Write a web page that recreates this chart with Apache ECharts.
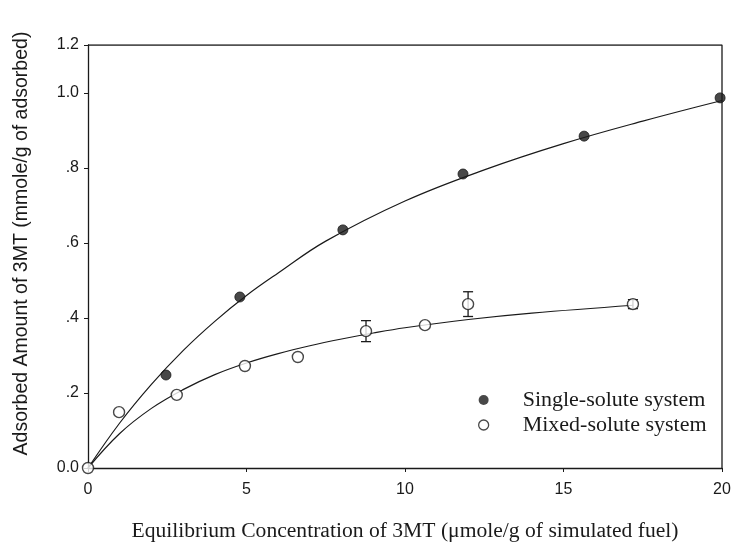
<!DOCTYPE html>
<html>
<head>
<meta charset="utf-8">
<script src="https://cdn.jsdelivr.net/npm/echarts@6/dist/echarts.min.js"></script>
<style>
  html, body { margin: 0; padding: 0; background: #fff; }
  #chart { width: 739px; height: 551px; }
</style>
</head>
<body>
<div id="chart"></div>
<script>
// Measured isotherm points: single-solute (filled) and mixed-solute (open)
const singleC = [2.46, 4.79, 8.04, 11.83, 15.65, 19.94];
const singleQ = [0.248, 0.456, 0.635, 0.784, 0.885, 0.987];

const mixedC = [0, 0.98, 2.8, 4.95, 6.62, 8.77, 10.63, 11.99, 17.19];
const mixedQ = [0, 0.149, 0.195, 0.272, 0.296, 0.365, 0.381, 0.437, 0.437];
const mixedErr = [0, 0, 0, 0, 0, 0.028, 0, 0.033, 0.012];

// Fitted isotherm curves
const singleFitC = [0, 1, 2, 3, 4, 5, 6, 7.5, 10, 12.5, 15, 17.5, 20];
const singleFitQ = [0, 0.12, 0.223, 0.313, 0.391, 0.46, 0.52, 0.605, 0.712, 0.795, 0.865, 0.925, 0.98];

const mixedFitC = [0, 1, 2, 3, 4, 5, 6, 7, 8, 9, 10, 12, 14, 17.2];
const mixedFitQ = [0, 0.092, 0.159, 0.209, 0.249, 0.28, 0.305, 0.326, 0.344, 0.36, 0.374, 0.396, 0.413, 0.434];

// Tick labels on the axes
const xTickLabels = ['0', '5', '10', '15', '20'];
const yTickLabels = ['0.0', '.2', '.4', '.6', '.8', '1.0', '1.2'];

const ink = '#1a1a1a';
const zip = (a, b) => a.map((v, i) => [v, b[i]]);

const chart = echarts.init(document.getElementById('chart'));
chart.setOption({
  backgroundColor: '#fff',
  animation: false,
  grid: { left: 88, right: 17, top: 45, bottom: 83, containLabel: false, outerBoundsMode: 'none' },
  legend: {
    orient: 'vertical',
    left: 473,
    top: 384,
    itemGap: 3,
    itemWidth: 14,
    itemHeight: 10,
    textStyle: { fontFamily: 'Liberation Serif', fontSize: 22, color: ink, padding: [0, 0, 0, 27] },
    data: [
      { name: 'Single-solute system', icon: 'circle', itemStyle: { color: ink, borderColor: ink } },
      { name: 'Mixed-solute system', icon: 'circle', itemStyle: { color: '#fff', borderColor: ink, borderWidth: 1.3 } }
    ]
  },
  xAxis: {
    type: 'value',
    min: 0, max: 20, interval: 5,
    name: 'Equilibrium Concentration of 3MT (\u03bcmole/g of simulated fuel)',
    nameLocation: 'middle',
    nameGap: 52,
    nameTextStyle: { fontFamily: 'Liberation Serif', fontSize: 21.6, color: ink },
    axisLine: { onZero: false, lineStyle: { color: ink, width: 1.3 } },
    axisTick: { show: true, length: 4, lineStyle: { color: ink } },
    axisLabel: {
      margin: 14, fontFamily: 'Liberation Sans', fontSize: 16, color: ink,
      formatter: (v, i) => xTickLabels[i]
    },
    splitLine: { show: false }
  },
  yAxis: {
    type: 'value',
    min: 0, max: 1.128, interval: 0.2,
    name: 'Adsorbed Amount of 3MT (mmole/g of adsorbed)',
    nameLocation: 'middle',
    nameGap: 56,
    nameTextStyle: { fontFamily: 'Liberation Sans', fontSize: 19.5, color: ink, padding: [0, 0, 0, 26] },
    axisLine: { onZero: false, lineStyle: { color: ink, width: 1.3 } },
    axisTick: { show: true, length: 4, lineStyle: { color: ink } },
    axisLabel: {
      margin: 9, fontFamily: 'Liberation Sans', fontSize: 16, color: ink,
      showMaxLabel: true,
      formatter: (v, i) => yTickLabels[i]
    },
    splitLine: { show: false }
  },
  series: [
    // Frame: top and right borders of the plotting area
    {
      type: 'line', silent: true, symbol: 'none',
      data: [[0, 1.128], [20, 1.128], [20, 0]],
      lineStyle: { color: ink, width: 1.3 }
    },
    {
      name: 'single fit', type: 'line', smooth: 0.4, symbol: 'none', silent: true,
      data: zip(singleFitC, singleFitQ),
      lineStyle: { color: ink, width: 1.2 }
    },
    {
      name: 'mixed fit', type: 'line', smooth: 0.4, symbol: 'none', silent: true,
      data: zip(mixedFitC, mixedFitQ),
      lineStyle: { color: ink, width: 1.2 }
    },
    {
      name: 'error bars', type: 'custom', silent: true,
      data: mixedC.map((c, i) => [c, mixedQ[i], mixedErr[i]]).filter(d => d[2] > 0),
      renderItem: (params, api) => {
        const x = api.value(0), y = api.value(1), e = api.value(2);
        const top = api.coord([x, y + e]);
        const bot = api.coord([x, y - e]);
        const w = 5;
        const style = { stroke: ink, lineWidth: 1.3 };
        return {
          type: 'group',
          children: [
            { type: 'line', shape: { x1: top[0], y1: top[1], x2: bot[0], y2: bot[1] }, style },
            { type: 'line', shape: { x1: top[0] - w, y1: top[1], x2: top[0] + w, y2: top[1] }, style },
            { type: 'line', shape: { x1: bot[0] - w, y1: bot[1], x2: bot[0] + w, y2: bot[1] }, style }
          ]
        };
      },
      z: 3
    },
    {
      name: 'Single-solute system', type: 'scatter',
      data: zip(singleC, singleQ),
      symbol: 'circle', symbolSize: 10,
      itemStyle: { color: ink, borderColor: ink },
      z: 5
    },
    {
      name: 'Mixed-solute system', type: 'scatter',
      data: zip(mixedC, mixedQ),
      symbol: 'circle', symbolSize: 11,
      itemStyle: { color: '#fff', borderColor: ink, borderWidth: 1.4 },
      z: 6
    }
  ]
});
</script>
</body>
</html>
